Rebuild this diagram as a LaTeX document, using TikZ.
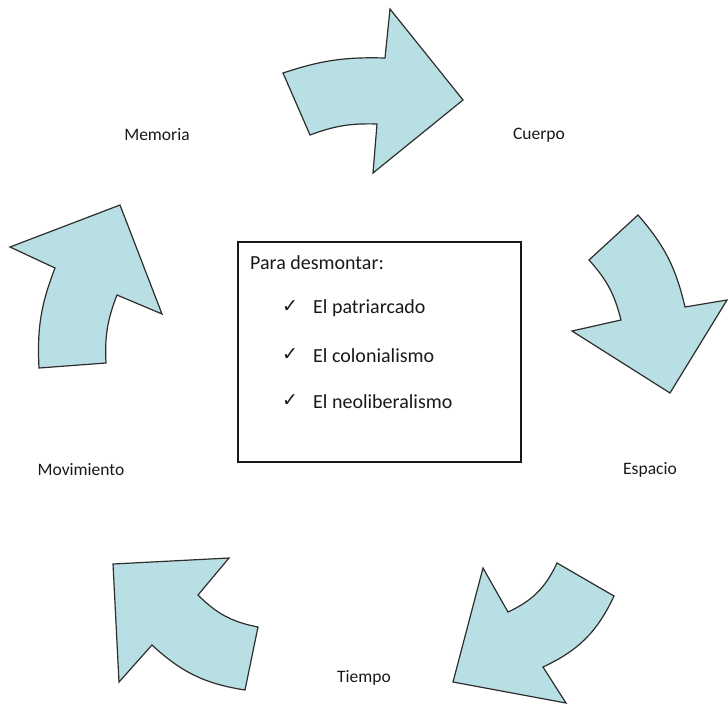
\documentclass[tikz,border=0pt]{standalone}
\usepackage{fontspec}
\setmainfont{Carlito}
\newfontfamily\symfont{DejaVu Sans}
\definecolor{arrowfill}{RGB}{184,223,227}
\definecolor{arrowline}{RGB}{45,45,45}
\definecolor{txt}{RGB}{25,25,25}
\begin{document}
\begin{tikzpicture}[x=1pt,y=-1pt,
  cyc/.style={fill=arrowfill,draw=arrowline,line width=1.2pt,line join=miter},
  lbl/.style={font=\fontsize{17.5}{21}\selectfont,text=txt,inner sep=0pt},
  boxtxt/.style={font=\fontsize{20}{24}\selectfont,text=txt,inner sep=0pt,anchor=west},
  chk/.style={font=\symfont\fontsize{19}{21}\selectfont,text=txt,inner sep=0pt}]
\useasboundingbox (0,0) rectangle (728,713);

% cycle arrows
\draw[cyc] (283,73) to[bend left=10] (385,58) -- (390,9) -- (463,100) -- (373,173)
  -- (377,124) to[bend right=11] (310,135) -- cycle;
\draw[cyc] (638,215) to[bend left=14] (685,307) -- (727,300) -- (670,393) -- (572,331)
  -- (621,320) to[bend right=14] (589,260) -- cycle;
\draw[cyc] (614,596) to[bend left=20] (543,667) -- (566,703) -- (453,682) -- (483,568)
  -- (508,612) to[bend right=20] (557,563) -- cycle;
\draw[cyc] (245,690) to[bend left=17] (152,645) -- (119,682) -- (113,564) -- (229,558)
  -- (198,595) to[bend right=17] (258,627) -- cycle;
\draw[cyc] (39,368) to[bend left=12] (55,268) -- (10,247) -- (120,205) -- (162,314)
  -- (117,295) to[bend right=12] (106,363) -- cycle;

% labels
\node[lbl] (memoria) at (157,135) {Memoria};
\node[lbl] (cuerpo) at (539,135) {Cuerpo};
\node[lbl] (espacio) at (650,470) {Espacio};
\node[lbl] (movimiento) at (81,470) {Movimiento};
\node[lbl] (tiempo) at (364,678) {Tiempo};

% central box
\node[draw=txt,line width=1.5pt,minimum width=283pt,minimum height=220pt,inner sep=0pt,anchor=north west] (box) at (237,241) {};
\node[boxtxt] (title) at (250,263) {Para desmontar:};
\node[chk] (c1) at (290,307) {✓};
\node[chk] (c2) at (290,355) {✓};
\node[chk] (c3) at (290,401) {✓};
\node[boxtxt] (i1) at (313,308) {El patriarcado};
\node[boxtxt] (i2) at (313,356) {El colonialismo};
\node[boxtxt] (i3) at (313,402) {El neoliberalismo};
\end{tikzpicture}
\end{document}
